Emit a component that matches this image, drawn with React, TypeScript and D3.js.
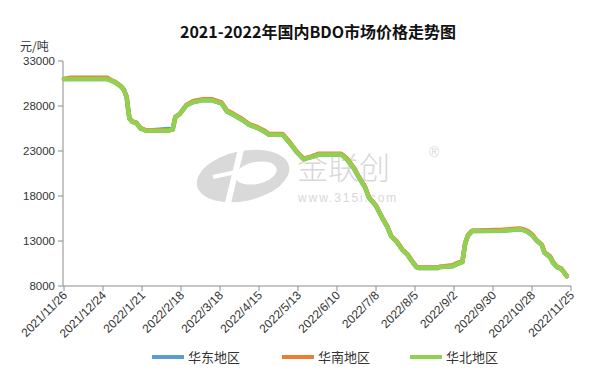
import React from "react";
import * as d3 from "d3";

const title = "2021-2022年国内BDO市场价格走势图";
const yUnit = "元/吨";
const yTicks = [8000, 13000, 18000, 23000, 28000, 33000];
const xTickLabels = [
  "2021/11/26", "2021/12/24", "2022/1/21", "2022/2/18", "2022/3/18", "2022/4/15", "2022/5/13",
  "2022/6/10", "2022/7/8", "2022/8/5", "2022/9/2", "2022/9/30", "2022/10/28", "2022/11/25",
];
const seriesNames = ["华东地区", "华南地区", "华北地区"];
const seriesColors = ["#5B9BD5", "#ED7D31", "#92D050"];

const dates = [
  "2021-11-26", "2021-12-01", "2021-12-27", "2021-12-30", "2022-01-02", "2022-01-06", "2022-01-08",
  "2022-01-10", "2022-01-11", "2022-01-12", "2022-01-14", "2022-01-17", "2022-01-20", "2022-01-24",
  "2022-02-09", "2022-02-12", "2022-02-14", "2022-02-17", "2022-02-22", "2022-02-27", "2022-03-06",
  "2022-03-12", "2022-03-19", "2022-03-23", "2022-03-28", "2022-04-03", "2022-04-08", "2022-04-14",
  "2022-04-19", "2022-04-22", "2022-05-02", "2022-05-07", "2022-05-12", "2022-05-17", "2022-05-23",
  "2022-05-28", "2022-06-13", "2022-06-17", "2022-06-22", "2022-06-26", "2022-06-30", "2022-07-03",
  "2022-07-08", "2022-07-13", "2022-07-16", "2022-07-19", "2022-07-23", "2022-07-27", "2022-07-31",
  "2022-08-03", "2022-08-06", "2022-08-08", "2022-08-21", "2022-08-23", "2022-09-01", "2022-09-05",
  "2022-09-08", "2022-09-10", "2022-09-12", "2022-09-15", "2022-10-07", "2022-10-19", "2022-10-21",
  "2022-10-25", "2022-10-28", "2022-10-31", "2022-11-04", "2022-11-06", "2022-11-10", "2022-11-12",
  "2022-11-15", "2022-11-18", "2022-11-22",
];

const eastValues = [
  31000, 31000, 31000, 30800, 30600, 30150, 29800,
  29000, 27700, 26600, 26250, 26100, 25500, 25250,
  25450, 25400, 26800, 27100, 28100, 28450, 28650,
  28650, 28300, 27400, 27000, 26450, 25900, 25550,
  25150, 24800, 24800, 23900, 22900, 22100, 22350,
  22600, 22600, 22100, 21100, 20000, 19000, 17800,
  16900, 15400, 14600, 13500, 12900, 12000, 11400,
  10700, 10100, 10000, 10000, 10100, 10200, 10500,
  10650, 12700, 13600, 14100, 14150, 14300, 14250,
  14000, 13650, 13100, 12550, 11700, 11200, 10600,
  10100, 9900, 9100,
];

const southValues = [
  31000, 31150, 31150, 30850, 30650, 30200, 29800,
  29000, 27700, 26650, 26300, 26150, 25550, 25300,
  25300, 25400, 26800, 27100, 28150, 28550, 28750,
  28750, 28400, 27500, 27100, 26550, 26000, 25650,
  25250, 24900, 24900, 24000, 22950, 22150, 22400,
  22700, 22700, 22200, 21150, 20050, 19050, 17850,
  16950, 15450, 14650, 13550, 12950, 12050, 11450,
  10750, 10150, 10050, 10050, 10150, 10300, 10600,
  10700, 12750, 13650, 14150, 14250, 14400, 14350,
  14100, 13750, 13150, 12600, 11750, 11300, 10700,
  10150, 9950, 9100,
];

const northValues = [
  31000, 31000, 31000, 30800, 30600, 30150, 29800,
  29000, 27700, 26600, 26250, 26100, 25500, 25250,
  25250, 25400, 26800, 27100, 28100, 28450, 28650,
  28650, 28300, 27400, 27000, 26450, 25900, 25550,
  25150, 24800, 24800, 23900, 22900, 22100, 22350,
  22600, 22600, 22100, 21100, 20000, 19000, 17800,
  16900, 15400, 14600, 13500, 12900, 12000, 11400,
  10700, 10100, 10000, 10000, 10100, 10200, 10500,
  10650, 12700, 13600, 14100, 14150, 14300, 14250,
  14000, 13650, 13100, 12550, 11700, 11200, 10600,
  10100, 9900, 9100,
];

const W = 592;
const H = 381;
const left = 64;
const right = 571;
const top = 61;
const bottom = 286;
const font = "'Liberation Sans', Arial, 'Noto Sans CJK SC', sans-serif";
const cjkFont = "'Noto Sans CJK SC', 'Liberation Sans', sans-serif";

export default function App() {
  const parseD = d3.timeParse("%Y-%m-%d");
  const parseT = d3.timeParse("%Y/%m/%d");
  const tickDates = xTickLabels.map((s) => parseT(s) as Date);
  const x = d3
    .scaleTime()
    .domain([tickDates[0], tickDates[tickDates.length - 1]])
    .range([left, right]);
  const y = d3.scaleLinear().domain([8000, 33000]).range([bottom, top]);
  const parsed = dates.map((s) => parseD(s) as Date);
  const allSeries = [eastValues, southValues, northValues];
  const line = d3
    .line<number>()
    .x((_, i) => x(parsed[i]))
    .y((v) => y(v));

  const legendX = [152, 282, 410];
  const legendY = 357;

  return (
    <svg
      width={W}
      height={H}
      style={{ position: "absolute", left: 0, top: 0, background: "#fff" }}
    >
      <rect x={0} y={0} width={W} height={H} fill="#fff" />
      {/* watermark */}
      <g>
        <ellipse cx={243} cy={176} rx={47} ry={25} fill="#d9d9d9" transform="rotate(-12 243 176)" />
        <ellipse cx={256} cy={173} rx={21} ry={11} fill="#fff" transform="rotate(-12 256 173)" />
        <path d="M228,203 L241,149" stroke="#fff" strokeWidth={6} />
        <path d="M213,177 L236,172" stroke="#fff" strokeWidth={4} />
        <text x={297} y={179} fontFamily={cjkFont} fontSize={31} fill="#d8d8d8" fontWeight={300}>
          金联创
        </text>
        <text x={298} y={202} fontFamily={font} fontSize={12} fill="#d8d8d8" letterSpacing={1.9}>
          www.315i.com
        </text>
        <text x={429} y={157} fontFamily={font} fontSize={14} fill="#d8d8d8">
          ®
        </text>
      </g>
      <text
        x={318}
        y={38}
        textAnchor="middle"
        fontFamily={cjkFont}
        fontSize={16}
        fontWeight="bold"
        fill="#111"
      >
        {title}
      </text>
      <text x={20} y={51} fontFamily={cjkFont} fontSize={12} fill="#333">
        {yUnit}
      </text>
      {/* y axis */}
      <line x1={left - 1} x2={left - 1} y1={top} y2={bottom} stroke="#8c8c8c" strokeWidth={1} />
      {yTicks.map((t) => (
        <g key={t}>
          <line x1={left - 6} x2={left - 1} y1={y(t)} y2={y(t)} stroke="#8c8c8c" />
          <text
            x={left - 9}
            y={y(t)}
            dy="0.35em"
            textAnchor="end"
            fontFamily={font}
            fontSize={11.5}
            fill="#333"
          >
            {t}
          </text>
        </g>
      ))}
      {/* x axis */}
      <line x1={left - 1} x2={right} y1={bottom} y2={bottom} stroke="#8c8c8c" strokeWidth={1} />
      {tickDates.map((d, i) => (
        <g key={i}>
          <line x1={x(d)} x2={x(d)} y1={bottom} y2={bottom + 5} stroke="#8c8c8c" />
          <text
            transform={`translate(${x(d) + 4},${bottom + 10}) rotate(-45)`}
            textAnchor="end"
            fontFamily={font}
            fontSize={12}
            fill="#333"
          >
            {xTickLabels[i]}
          </text>
        </g>
      ))}
      {/* lines */}
      {allSeries.map((vals, si) => (
        <path
          key={si}
          d={line(vals) || ""}
          fill="none"
          stroke={seriesColors[si]}
          strokeWidth={4.5}
          strokeLinejoin="round"
          strokeLinecap="round"
        />
      ))}
      {/* legend */}
      {seriesNames.map((n, i) => (
        <g key={n}>
          <line
            x1={legendX[i]}
            x2={legendX[i] + 32}
            y1={legendY}
            y2={legendY}
            stroke={seriesColors[i]}
            strokeWidth={4}
          />
          <text
            x={legendX[i] + 36}
            y={legendY}
            dy="0.35em"
            fontFamily={cjkFont}
            fontSize={13}
            fill="#333"
          >
            {n}
          </text>
        </g>
      ))}
    </svg>
  );
}
